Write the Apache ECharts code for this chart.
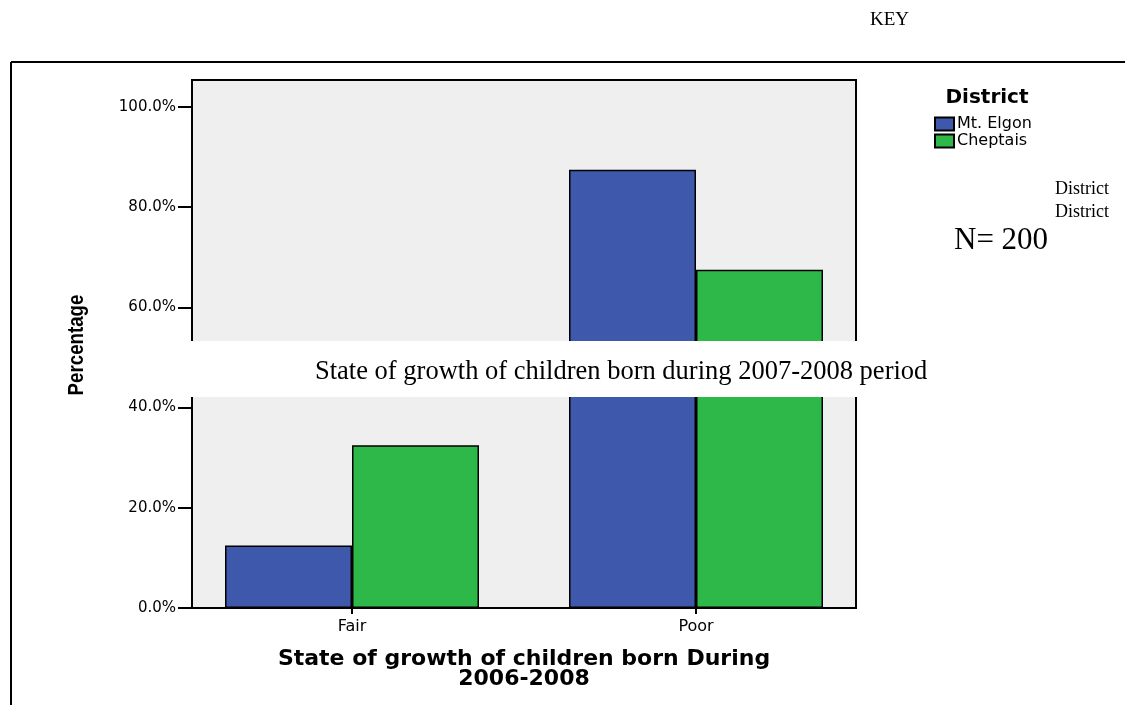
<!DOCTYPE html>
<html>
<head>
<meta charset="utf-8">
<script src="https://cdn.jsdelivr.net/npm/echarts@6/dist/echarts.min.js"></script>
<style>html,body{margin:0;padding:0;background:#fff;}#c{width:1125px;height:705px;}</style>
</head>
<body>
<div id="c"></div>
<script>
const categories = ['Fair', 'Poor'];
const seriesNames = ['Mt. Elgon', 'Cheptais'];
const mtElgon = [12.5, 87.5];
const cheptais = [32.5, 67.5];
const yTicks = [0, 20, 40, 60, 80, 100];

const chart = echarts.init(document.getElementById('c'));
const sans = 'DejaVu Sans';
const serif = 'Liberation Serif';
chart.setOption({
  backgroundColor: '#ffffff',
  animation: false,
  grid: { left: 180, right: 257, top: 107, bottom: 97, containLabel: false },
  legend: {
    orient: 'vertical', left: 929, top: 111, itemWidth: 19, itemHeight: 13, itemGap: 1,
    icon: 'rect',
    textStyle: { fontFamily: sans, fontSize: 16, color: '#000', padding: [0, 0, 0, -2] },
    data: seriesNames
  },
  xAxis: {
    type: 'category', data: categories,
    axisLine: { show: false },
    axisTick: { show: true, alignWithLabel: true, length: 6, lineStyle: { color: '#000', width: 2 } },
    axisLabel: { color: '#000', fontFamily: sans, fontSize: 16, margin: 11 },
    name: 'State of growth of children born During\n2006-2008',
    nameLocation: 'middle', nameGap: 41,
    nameTextStyle: { fontFamily: sans, fontWeight: 'bold', fontSize: 22, color: '#000', lineHeight: 20 }
  },
  yAxis: {
    type: 'value', min: 0, max: 100, interval: 20, offset: -12,
    splitLine: { show: false },
    axisLine: { show: false },
    axisTick: { show: true, inside: false, length: 14, lineStyle: { color: '#000', width: 2 } },
    axisLabel: { color: '#000', fontFamily: sans, fontSize: 15, margin: 16,
      formatter: v => yTicks.includes(v) ? v.toFixed(1) + '%' : '' }
  },
  series: [
    { name: seriesNames[0], type: 'bar', data: mtElgon, barWidth: 127, barGap: '0%',
      itemStyle: { color: '#3e58ac', borderColor: '#000', borderWidth: 1.5 }, z: 3 },
    { name: seriesNames[1], type: 'bar', data: cheptais, barWidth: 127, barGap: '0%',
      itemStyle: { color: '#2fb84a', borderColor: '#000', borderWidth: 1.5 }, z: 3 }
  ],
  graphic: [
    { type: 'rect', z: -10, shape: { x: 192, y: 80, width: 664, height: 528 },
      style: { fill: '#efefef', stroke: '#000', lineWidth: 2 } },
    { type: 'line', z: 50, shape: { x1: 11, y1: 62, x2: 1125, y2: 62 }, style: { stroke: '#000', lineWidth: 2 } },
    { type: 'line', z: 50, shape: { x1: 11, y1: 62, x2: 11, y2: 705 }, style: { stroke: '#000', lineWidth: 2 } },
    { type: 'text', z: 50, x: 77, y: 345, rotation: Math.PI / 2, scaleX: 0.85,
      style: { text: 'Percentage', fontFamily: 'Liberation Sans', fontWeight: 'bold', fontSize: 22,
        fill: '#000', align: 'center', verticalAlign: 'middle' } },
    { type: 'text', z: 50, x: 987, y: 98,
      style: { text: 'District', fontFamily: sans, fontWeight: 'bold', fontSize: 20, fill: '#000',
        align: 'center', verticalAlign: 'middle' } },
    { type: 'rect', z: 100, shape: { x: 185, y: 341, width: 681, height: 56 }, style: { fill: '#ffffff' } },
    { type: 'text', z: 101, x: 315, y: 372,
      style: { text: 'State of growth of children born during 2007-2008 period', fontFamily: serif, fontSize: 26.5,
        fill: '#000', align: 'left', verticalAlign: 'middle' } },
    { type: 'text', z: 50, x: 870, y: 20,
      style: { text: 'KEY', fontFamily: serif, fontSize: 19, fill: '#000', align: 'left', verticalAlign: 'middle' } },
    { type: 'text', z: 50, x: 1055, y: 189,
      style: { text: 'District', fontFamily: serif, fontSize: 18, fill: '#000', align: 'left', verticalAlign: 'middle' } },
    { type: 'text', z: 50, x: 1055, y: 212,
      style: { text: 'District', fontFamily: serif, fontSize: 18, fill: '#000', align: 'left', verticalAlign: 'middle' } },
    { type: 'text', z: 50, x: 954, y: 241,
      style: { text: 'N= 200', fontFamily: serif, fontSize: 31, fill: '#000', align: 'left', verticalAlign: 'middle' } }
  ]
});
</script>
</body>
</html>
